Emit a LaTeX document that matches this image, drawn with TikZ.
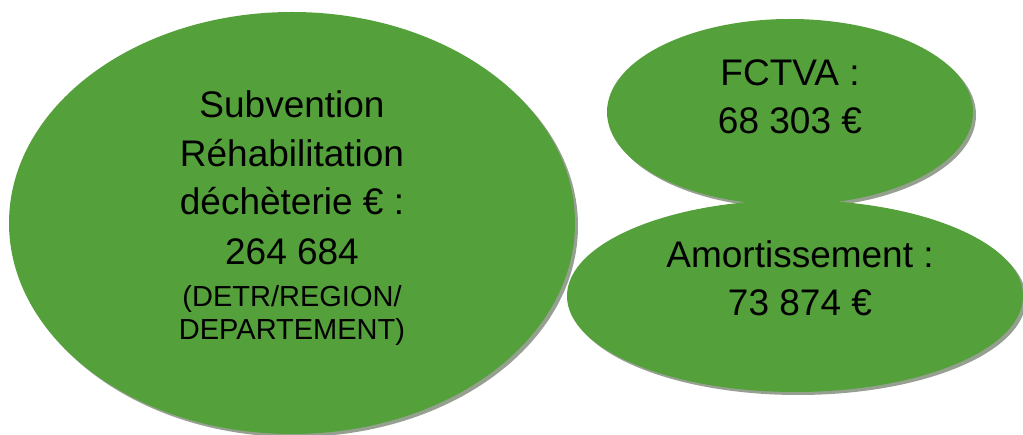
\documentclass[tikz,border=0pt]{standalone}
\usepackage{fontspec}
\setmainfont{Liberation Sans}
\usetikzlibrary{shapes.geometric}
\definecolor{blobgreen}{RGB}{84,160,59}
\definecolor{blobshadow}{RGB}{150,160,145}
\tikzset{
  blob/.style={ellipse, fill=blobgreen, inner sep=0pt, draw=none},
  blobshade/.style={ellipse, fill=blobshadow, inner sep=0pt, draw=none},
  bigtxt/.style={anchor=base, inner sep=0pt, font=\fontsize{37}{44}\selectfont},
  smalltxt/.style={anchor=base, inner sep=0pt, font=\fontsize{29}{33}\selectfont},
}
\begin{document}
\begin{tikzpicture}[x=1pt,y=-1pt]
\useasboundingbox (0,0) rectangle (1023,435);
% big ellipse
\node[blobshade, minimum width=566pt, minimum height=422pt] (bigS) at (295,226) {};
\node[blob, minimum width=566pt, minimum height=422pt] (big) at (292,223) {};
% top right ellipse
\node[blobshade, minimum width=366pt, minimum height=186pt] (topS) at (793,115) {};
\node[blob, minimum width=366pt, minimum height=186pt] (top) at (790,112) {};
% bottom right ellipse
\node[blobshade, minimum width=456pt, minimum height=192pt] (botS) at (798,299) {};
\node[blob, minimum width=456pt, minimum height=192pt] (bot) at (795,296) {};
% texts
\node[bigtxt] (t1) at (292,118) {Subvention};
\node[bigtxt] (t2) at (292,167) {Réhabilitation};
\node[bigtxt] (t3) at (292,215) {déchèterie € :};
\node[bigtxt] (t4) at (292,265) {264 684};
\node[smalltxt] (t5) at (292,307) {(DETR/REGION/};
\node[smalltxt] (t6) at (292,340) {DEPARTEMENT)};
\node[bigtxt] (f1) at (790,86) {FCTVA :};
\node[bigtxt] (f2) at (790,134) {68 303 €};
\node[bigtxt] (a1) at (800,268) {Amortissement :};
\node[bigtxt] (a2) at (800,316) {73 874 €};
\end{tikzpicture}
\end{document}
